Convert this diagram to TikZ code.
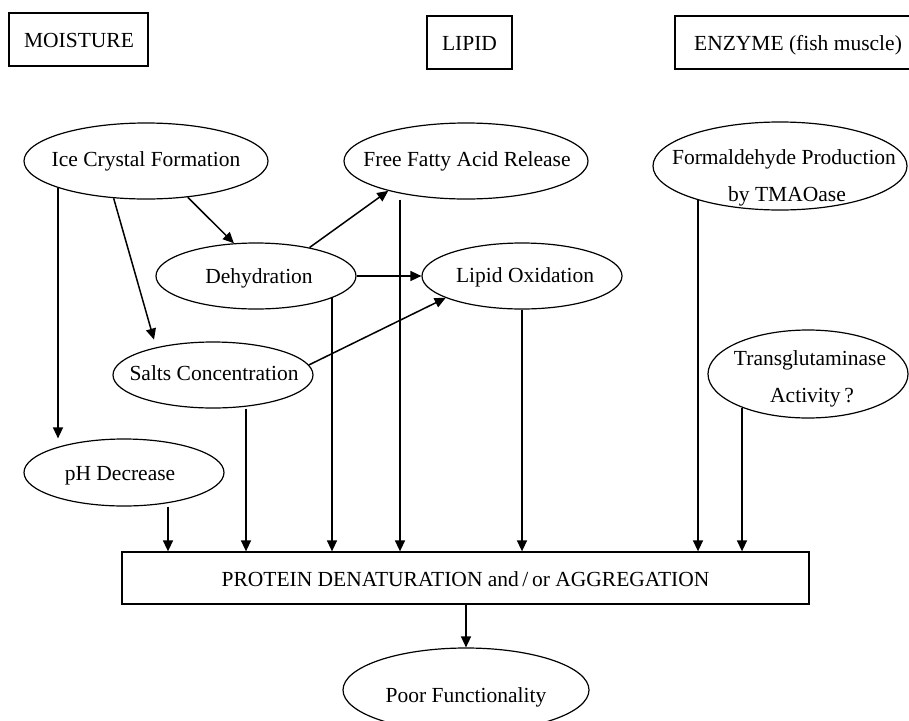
\documentclass[tikz,border=0pt]{standalone}
\usepackage{fontspec}
\setmainfont{Liberation Serif}
\usetikzlibrary{arrows.meta,shapes.geometric}
\begin{document}
\begin{tikzpicture}[x=1pt,y=-1pt,
  font=\fontsize{21.5}{26}\selectfont,
  ell/.style={draw, ellipse, inner sep=0pt, line width=1.2pt},
  box/.style={draw, rectangle, inner sep=0pt, line width=1.3pt},
  txt/.style={anchor=base, inner sep=0pt},
  arr/.style={-{Triangle[length=11pt,width=10pt]}, line width=1.5pt}]
\clip (0,0) rectangle (909,720);
% header boxes
\node[box, minimum width=139, minimum height=53] (moist) at (78.5,39.5) {};
\node[txt] (moistT) at (79,47) {MOISTURE};
\node[box, minimum width=85, minimum height=53] (lipid) at (469.5,42.5) {};
\node[txt] (lipidT) at (469.5,50) {LIPID};
\node[box, minimum width=240, minimum height=53] (enz) at (795,42.5) {};
\node[txt] (enzT) at (798,50) {ENZYME (fish muscle)};
% ellipses
\node[ell, minimum width=244, minimum height=76] (ice) at (146,161) {};
\node[txt] (iceT) at (146,166) {Ice Crystal Formation};
\node[ell, minimum width=244, minimum height=76] (ffa) at (466,161) {};
\node[txt] (ffaT) at (467,166) {Free Fatty Acid Release};
\node[ell, minimum width=254, minimum height=88] (form) at (780,166) {};
\node[txt] (formT1) at (784,164) {Formaldehyde Production};
\node[txt] (formT2) at (787,201) {by TMAOase};
\node[ell, minimum width=200, minimum height=66] (deh) at (256,276) {};
\node[txt] (dehT) at (259,283) {Dehydration};
\node[ell, minimum width=200, minimum height=66] (lox) at (522,276) {};
\node[txt] (loxT) at (525,282) {Lipid Oxidation};
\node[ell, minimum width=200, minimum height=66] (salts) at (213,375) {};
\node[txt] (saltsT) at (214,380) {Salts Concentration};
\node[ell, minimum width=200, minimum height=88] (trans) at (808,374) {};
\node[txt] (transT1) at (810,365) {Transglutaminase};
\node[txt] (transT2) at (812,402) {Activity\,?};
\node[ell, minimum width=200, minimum height=67] (ph) at (124,472.5) {};
\node[txt] (phT) at (120,480) {pH Decrease};
\node[box, minimum width=687, minimum height=52] (prot) at (465.5,578) {};
\node[txt] (protT) at (465.5,586) {PROTEIN DENATURATION and\,/\,or AGGREGATION};
\node[ell, minimum width=246, minimum height=84] (poor) at (466,690) {};
\node[txt] (poorT) at (466,702) {Poor Functionality};
% arrows among causes
\coordinate (x0) at (58,0);
\draw[arr] (ice.197 -| x0) -- (x0 |- ph.north);
\draw[arr, shorten >=8pt] (ice.229) -- (salts.154);
\draw[arr] (ice.319) -- (deh.124);
\draw[arr] (deh.28) -- (ffa.201);
\draw[arr] (deh.east) -- (lox.west);
\draw[arr] (salts.6) -- (lox.196);
% arrows into protein box
\coordinate (x3) at (332,0);
\coordinate (x6) at (698,0);
\coordinate (x7) at (742,0);
\coordinate (x8) at (466,0);
\coordinate (s1) at ([xshift=44pt]ph.south);
\coordinate (s2) at ([xshift=33pt]salts.south);
\coordinate (s3) at (deh.344 -| x3);
\coordinate (s4) at ([xshift=-66pt]ffa.south);
\coordinate (s6) at (form.202 -| x6);
\coordinate (s7) at (trans.207 -| x7);
\draw[arr] (s1) -- (s1 |- prot.north);
\draw[arr] (s2) -- (s2 |- prot.north);
\draw[arr] (s3) -- (s3 |- prot.north);
\draw[arr] (s4) -- (s4 |- prot.north);
\draw[arr] (lox.south) -- (lox.south |- prot.north);
\draw[arr] (s6) -- (s6 |- prot.north);
\draw[arr] (s7) -- (s7 |- prot.north);
\draw[arr] (prot.south -| x8) -- (poor.north -| x8);
\end{tikzpicture}
\end{document}
